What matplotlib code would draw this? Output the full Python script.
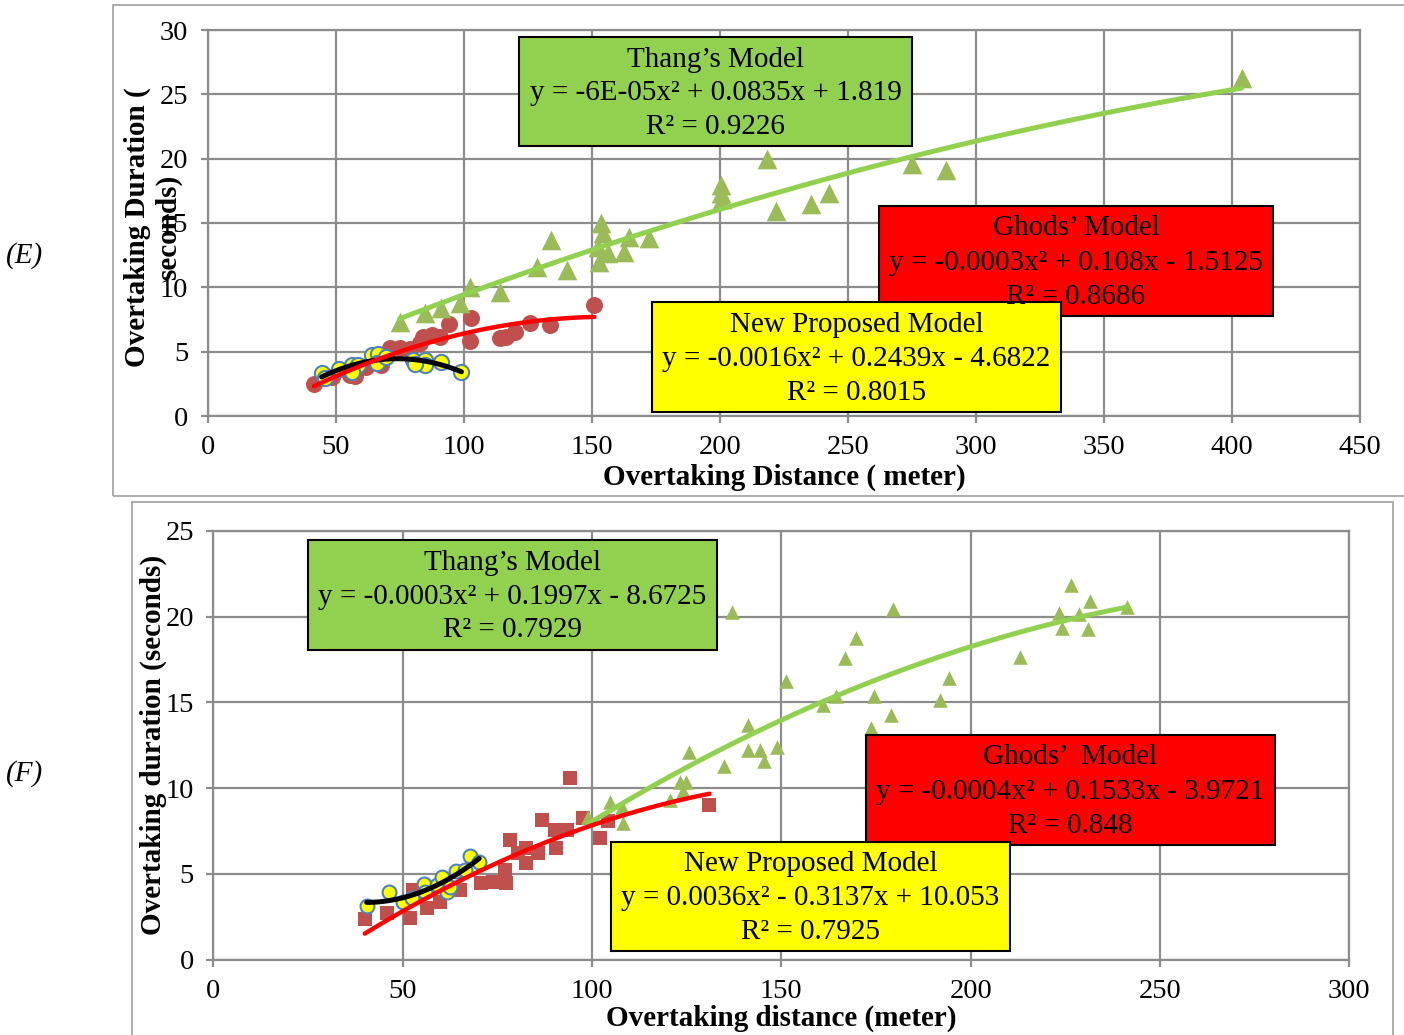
import numpy as np
import matplotlib
matplotlib.use('Agg')
import matplotlib.pyplot as plt
from matplotlib.patches import Rectangle

plt.rcParams['font.family'] = ['Liberation Serif', 'DejaVu Serif']

# ---------------- data, panel (E) ----------------
top_new_x = [44.5, 45.7, 51.3, 56.2, 58.7, 56.2, 64.0, 66.5, 66.1, 69.8, 80.2, 84.7, 84.7, 80.9, 91.3, 99.1]
top_new_y = [3.32, 2.93, 3.63, 3.96, 3.96, 3.44, 4.74, 4.82, 4.09, 4.61, 4.35, 4.35, 3.96, 4.04, 4.22, 3.44]

top_ghods_x = [41.5, 48.4, 55.5, 57.4, 62.0, 67.8, 71.1, 75.1, 79.0, 82.8, 84.1, 87.4, 90.6, 94.2,
               102.3, 103.0, 114.0, 116.6, 120.2, 125.7, 133.5, 151.0]
top_ghods_y = [2.46, 3.0, 3.19, 3.1, 3.83, 3.96, 5.3, 5.26, 5.18, 5.65, 6.16, 6.29, 6.16, 7.12,
               5.83, 7.64, 6.04, 6.16, 6.55, 7.2, 7.07, 8.62]

top_thang_x = [75.0, 84.7, 91.3, 98.4, 102.6, 114.0, 128.6, 134.2, 140.5, 152.3, 153.0, 153.7, 154.3,
               156.2, 162.7, 164.7, 172.5, 200.5, 200.5, 200.9, 218.3, 221.9, 235.6, 242.7, 275.0, 288.2, 403.8]
top_thang_y = [7.33, 7.98, 8.37, 8.76, 10.05, 9.66, 11.6, 13.7, 11.35, 13.16, 12.0, 14.97, 14.2,
               12.64, 12.77, 13.93, 13.8, 17.95, 17.3, 16.9, 20.0, 15.9, 16.5, 17.3, 19.6, 19.1, 26.3]

# ---------------- data, panel (F) ----------------
bot_new_x = [40.5, 46.5, 50.1, 52.4, 55.6, 55.9, 59.0, 60.3, 61.6, 62.5, 64.1, 66.4, 67.9, 70.2]
bot_new_y = [3.13, 3.97, 3.39, 3.58, 4.42, 3.97, 4.36, 4.85, 3.97, 4.26, 5.2, 5.24, 6.05, 5.72]

bot_ghods_x = [40.0, 45.8, 51.9, 52.8, 56.3, 59.8, 61.2, 65.1, 70.8, 73.9, 77.4, 77.0, 78.3, 80.5,
               82.7, 82.7, 85.8, 86.7, 90.2, 90.6, 93.3, 94.1, 97.5, 102.1, 104.2, 131.0]
bot_ghods_y = [2.36, 2.71, 2.42, 4.07, 3.0, 3.39, 4.46, 4.07, 4.46, 4.55, 4.46, 5.24, 6.99, 6.21,
               5.63, 6.5, 6.21, 8.16, 7.57, 6.5, 7.57, 10.59, 8.25, 7.09, 8.06, 9.03]

bot_thang_x = [99.0, 104.7, 107.8, 108.2, 120.5, 123.2, 124.0, 124.9, 125.6, 134.8, 137.0, 141.2, 141.2,
               144.3, 145.4, 148.9, 151.3, 161.0, 164.3, 166.9, 169.6, 173.8, 174.4, 179.0, 179.5, 192.0,
               194.4, 212.9, 223.3, 224.2, 226.4, 228.6, 230.9, 231.6, 241.3]
bot_thang_y = [8.35, 9.22, 8.93, 7.96, 9.32, 10.39, 9.81, 10.39, 12.14, 11.27, 20.3, 13.7, 12.24,
               12.24, 11.56, 12.43, 16.23, 14.87, 15.4, 17.6, 18.76, 13.51, 15.4, 14.28, 20.45, 15.12,
               16.43, 17.65, 20.22, 19.35, 21.87, 20.18, 19.29, 20.9, 20.57]

top_boxes = [
    ("#92D050", ["Thang\u2019s Model", "y = -6E-05x\u00b2 + 0.0835x + 1.819", "R\u00b2 = 0.9226"]),
    ("#FF0000", ["Ghods\u2019 Model", "y = -0.0003x\u00b2 + 0.108x - 1.5125", "R\u00b2 = 0.8686"]),
    ("#FFFF00", ["New Proposed Model", "y = -0.0016x\u00b2 + 0.2439x - 4.6822", "R\u00b2 = 0.8015"]),
]
bot_boxes = [
    ("#92D050", ["Thang\u2019s Model", "y = -0.0003x\u00b2 + 0.1997x - 8.6725", "R\u00b2 = 0.7929"]),
    ("#FF0000", ["Ghods\u2019  Model", "y = -0.0004x\u00b2 + 0.1533x - 3.9721", "R\u00b2 = 0.848"]),
    ("#FFFF00", ["New Proposed Model", "y = 0.0036x\u00b2 - 0.3137x + 10.053", "R\u00b2 = 0.7925"]),
]

W, H = 1404, 1035
fig = plt.figure(figsize=(W / 100, H / 100), dpi=100)


def fx(px):
    return px / W


def fy(py):
    return 1 - py / H


GRID = '#8c8c8c'
FS = 21


def setup(ax, xmax, ymax):
    ax.set_xlim(0, xmax)
    ax.set_ylim(0, ymax)
    ax.set_xticks(np.arange(0, xmax + 1, 50))
    ax.set_yticks(np.arange(0, ymax + 1, 5))
    ax.grid(True, color=GRID, lw=1.6)
    ax.set_axisbelow(True)
    for s in ax.spines.values():
        s.set_color(GRID)
        s.set_linewidth(1.6)
    ax.tick_params(direction='out', length=5, width=1.6, color=GRID, labelsize=20.5, pad=9)


def trend(ax, x, y, color, lw):
    # quadratic trendline, like the excel one
    c = np.polyfit(x, y, 2)
    xs = np.linspace(min(x), max(x), 100)
    ax.plot(xs, np.polyval(c, xs), color=color, lw=lw, solid_capstyle='round', zorder=6)


def panel(ax, nx, ny, gx, gy, tx, ty, ms, gmarker):
    ax.scatter(gx, gy, s=ms[0], marker=gmarker, color='#C0504D', lw=0, zorder=3)
    ax.scatter(nx, ny, s=ms[1], marker='o', facecolor='#FFFF00', edgecolor='#4F81BD', lw=1.5, zorder=4)
    ax.scatter(tx, ty, s=ms[2], marker='^', color='#9BBB59', lw=0, zorder=4)
    trend(ax, tx, ty, '#92D050', 3.6)
    trend(ax, nx, ny, 'black', 3.6)
    trend(ax, gx, gy, '#FF0000', 3.2)


def box(x0, y0, x1, y1, color, lines, line_y, size=FS):
    fig.add_artist(Rectangle((fx(x0), fy(y1)), fx(x1) - fx(x0), fy(y0) - fy(y1),
                             transform=fig.transFigure, facecolor=color, edgecolor='black', lw=1.5))
    cx = (x0 + x1) / 2
    for t, yy in zip(lines, line_y):
        fig.text(fx(cx), fy(yy), t, ha='center', va='center', fontsize=size)


# panel frames
fig.add_artist(Rectangle((fx(113), fy(496)), fx(1420) - fx(113), fy(5.5) - fy(496),
                         transform=fig.transFigure, facecolor='none', edgecolor='#a6a6a6', lw=1.3))
fig.add_artist(Rectangle((fx(131.5), fy(1045)), fx(1393) - fx(131.5), fy(501.5) - fy(1045),
                         transform=fig.transFigure, facecolor='none', edgecolor='#a6a6a6', lw=1.3))

# (E)
ax1 = fig.add_axes([fx(207.7), fy(416), fx(1360) - fx(207.7), fy(30) - fy(416)])
setup(ax1, 450, 30)
panel(ax1, top_new_x, top_new_y, top_ghods_x, top_ghods_y, top_thang_x, top_thang_y,
      (150, 120, 200), 'o')

# (F)
ax2 = fig.add_axes([fx(213.3), fy(959.7), fx(1349.4) - fx(213.3), fy(531) - fy(959.7)])
setup(ax2, 300, 25)
panel(ax2, bot_new_x, bot_new_y, bot_ghods_x, bot_ghods_y, bot_thang_x, bot_thang_y,
      (110, 100, 110), 's')

# model boxes
box(519, 37, 912, 146, top_boxes[0][0], top_boxes[0][1], [60, 93, 127])
box(879, 206, 1273, 316, top_boxes[1][0], top_boxes[1][1], [228, 263, 297])
box(652, 302, 1061, 412, top_boxes[2][0], top_boxes[2][1], [325, 359, 393])

box(308, 540, 717, 650, bot_boxes[0][0], bot_boxes[0][1], [563, 597, 630])
box(866, 735, 1275, 845, bot_boxes[1][0], bot_boxes[1][1], [757, 792, 826])
box(611, 842, 1010, 951, bot_boxes[2][0], bot_boxes[2][1], [864, 898, 932])

# axis titles
fig.text(fx(153), fy(227), 'Overtaking Duration (\nseconds)', rotation=90, ha='center', va='center',
         fontsize=FS, fontweight='bold', multialignment='center', linespacing=1.15)
fig.text(fx(784), fy(477), 'Overtaking Distance ( meter)', ha='center', va='center',
         fontsize=FS, fontweight='bold')
fig.text(fx(153), fy(745), 'Overtaking duration (seconds)', rotation=90, ha='center', va='center',
         fontsize=FS, fontweight='bold')
fig.text(fx(781), fy(1018), 'Overtaking distance (meter)', ha='center', va='center',
         fontsize=FS, fontweight='bold')

fig.text(fx(25), fy(256), '(E)', ha='center', va='center', fontsize=FS, style='italic')
fig.text(fx(25), fy(774), '(F)', ha='center', va='center', fontsize=FS, style='italic')

fig.savefig('out.png', dpi=100)
